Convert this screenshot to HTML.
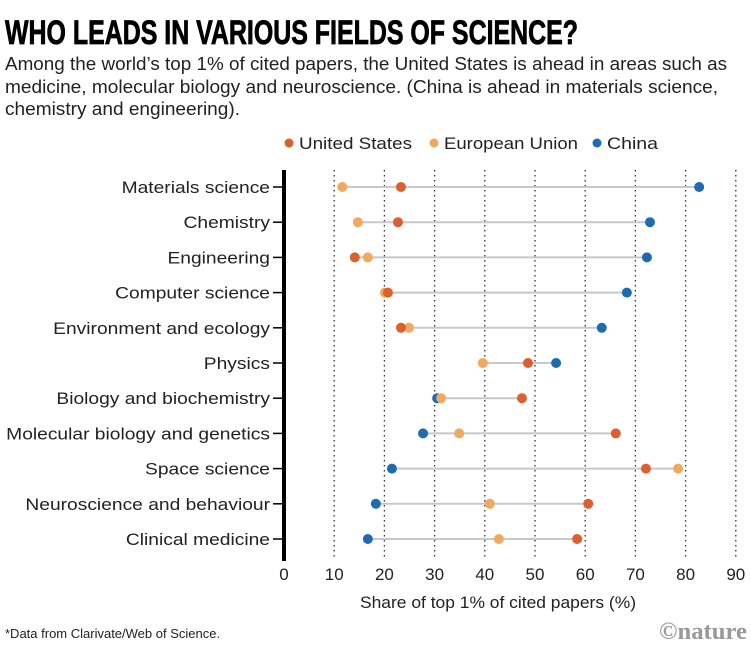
<!DOCTYPE html>
<html><head><meta charset="utf-8"><style>body{margin:0;background:#fff}svg{display:block}</style></head>
<body>
<svg width="751" height="660" xmlns="http://www.w3.org/2000/svg" font-family="Liberation Sans, sans-serif">
<rect width="751" height="660" fill="#fff"/>
<text x="5" y="44" font-size="34" font-weight="bold" font-family="Liberation Sans Narrow, Liberation Sans, sans-serif" textLength="573" lengthAdjust="spacingAndGlyphs" stroke="#000" stroke-width="0.8">WHO LEADS IN VARIOUS FIELDS OF SCIENCE?</text>
<g font-size="18" font-family="Liberation Sans Narrow, Liberation Sans, sans-serif" fill="#222">
<text x="5" y="70" textLength="722" lengthAdjust="spacingAndGlyphs">Among the world’s top 1% of cited papers, the United States is ahead in areas such as</text>
<text x="5" y="93" textLength="713" lengthAdjust="spacingAndGlyphs">medicine, molecular biology and neuroscience. (China is ahead in materials science,</text>
<text x="5" y="115" textLength="235" lengthAdjust="spacingAndGlyphs">chemistry and engineering).</text>
</g>
<g font-size="17" fill="#222">
<circle cx="289" cy="143" r="4.5" fill="#e35d2a"/><text x="299" y="149" textLength="113" lengthAdjust="spacingAndGlyphs">United States</text>
<circle cx="434" cy="143" r="4.5" fill="#f4a95a"/><text x="444" y="149" textLength="134" lengthAdjust="spacingAndGlyphs">European Union</text>
<circle cx="597" cy="143" r="4.5" fill="#1a6db5"/><text x="607" y="149" textLength="51" lengthAdjust="spacingAndGlyphs">China</text>
</g>
<g stroke="#333" stroke-width="1.3" stroke-dasharray="1.5,3.5">
<line x1="334.2" y1="170" x2="334.2" y2="560"/><line x1="384.4" y1="170" x2="384.4" y2="560"/><line x1="434.6" y1="170" x2="434.6" y2="560"/><line x1="484.8" y1="170" x2="484.8" y2="560"/><line x1="535" y1="170" x2="535" y2="560"/><line x1="585.2" y1="170" x2="585.2" y2="560"/><line x1="635.4" y1="170" x2="635.4" y2="560"/><line x1="685.6" y1="170" x2="685.6" y2="560"/><line x1="735.8" y1="170" x2="735.8" y2="560"/>
</g>
<line x1="284" y1="170" x2="284" y2="561" stroke="#000" stroke-width="4"/>
<g id="rows" font-size="17" fill="#222" text-anchor="end"></g>
<g font-size="17" fill="#222" text-anchor="middle">
<text x="284" y="580">0</text><text x="334.2" y="580">10</text><text x="384.4" y="580">20</text><text x="434.6" y="580">30</text><text x="484.8" y="580">40</text><text x="535" y="580">50</text><text x="585.2" y="580">60</text><text x="635.4" y="580">70</text><text x="685.6" y="580">80</text><text x="735.8" y="580">90</text>
<text x="498" y="608" textLength="276" lengthAdjust="spacingAndGlyphs">Share of top 1% of cited papers (%)</text>
</g>
<text x="5" y="638" font-size="13" fill="#222">*Data from Clarivate/Web of Science.</text>
<text x="747" y="639" font-size="24" font-weight="bold" fill="#999" text-anchor="end" font-family="Liberation Serif, serif" textLength="88" lengthAdjust="spacingAndGlyphs">©nature</text>
<g id="data"></g>
<script>
var rows=[["Materials science",23.3,11.6,82.7],["Chemistry",22.7,14.7,72.9],["Engineering",14.1,16.7,72.3],["Computer science",20.7,20.1,68.3],["Environment and ecology",23.3,24.9,63.3],["Physics",48.6,39.6,54.2],["Biology and biochemistry",47.4,31.3,30.5],["Molecular biology and genetics",66.1,34.9,27.7],["Space science",72.1,78.5,21.5],["Neuroscience and behaviour",60.6,41,18.3],["Clinical medicine",58.4,42.8,16.7]];
var ns="http://www.w3.org/2000/svg",g=document.getElementById("data"),rg=document.getElementById("rows");
function X(v){return 284+5.02*v}
function el(p,t,a){var e=document.createElementNS(ns,t);for(var k in a)e.setAttribute(k,a[k]);p.appendChild(e);return e}
rows.forEach(function(r,i){var y=187+35.2*i;
var t=el(rg,"text",{x:270,y:y+6});t.textContent=r[0];
try{var w=t.getComputedTextLength();t.setAttribute("textLength",(w*1.13).toFixed(1));t.setAttribute("lengthAdjust","spacingAndGlyphs");}catch(e){}
el(rg,"line",{x1:273,y1:y,x2:284,y2:y,stroke:"#000","stroke-width":1.5});
var mn=Math.min(r[1],r[2],r[3]),mx=Math.max(r[1],r[2],r[3]);
el(g,"line",{x1:X(mn),y1:y,x2:X(mx),y2:y,stroke:"#c5c8cc","stroke-width":2});
el(g,"circle",{cx:X(r[3]),cy:y,r:5,fill:"#1a6db5"});
el(g,"circle",{cx:X(r[2]),cy:y,r:5,fill:"#f4a95a"});
el(g,"circle",{cx:X(r[1]),cy:y,r:5,fill:"#e35d2a"});
});
</script>
</svg>
</body></html>
